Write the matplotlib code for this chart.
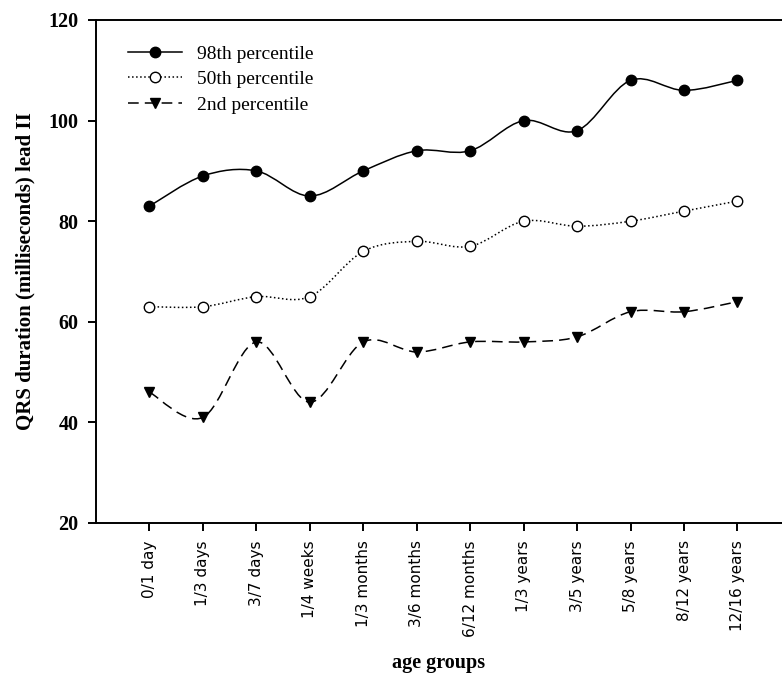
import matplotlib.pyplot as plt
from matplotlib.path import Path
from matplotlib.patches import PathPatch
from matplotlib.lines import Line2D

# Datos
age_groups = ['0/1 day', '1/3 days', '3/7 days', '1/4 weeks', '1/3 months', '3/6 months',
              '6/12 months', '1/3 years', '3/5 years', '5/8 years', '8/12 years', '12/16 years']
p98 = [83, 89, 90, 85, 90, 94, 94, 100, 98, 108, 106, 108]
p50 = [63, 63, 65, 65, 74, 76, 75, 80, 79, 80, 82, 84]
p2 = [46, 41, 56, 44, 56, 54, 56, 56, 57, 62, 62, 64]


def smooth_path(xs, ys):
    # curva suave (Catmull-Rom como Bezier cubico) que pasa por los puntos
    verts = [(xs[0], ys[0])]
    codes = [Path.MOVETO]
    n = len(xs)
    for i in range(n - 1):
        x0, y0 = (xs[i - 1], ys[i - 1]) if i > 0 else (xs[i], ys[i])
        x1, y1 = xs[i], ys[i]
        x2, y2 = xs[i + 1], ys[i + 1]
        x3, y3 = (xs[i + 2], ys[i + 2]) if i + 2 < n else (x2, y2)
        verts += [(x1 + (x2 - x0) / 6, y1 + (y2 - y0) / 6),
                  (x2 - (x3 - x1) / 6, y2 - (y3 - y1) / 6),
                  (x2, y2)]
        codes += [Path.CURVE4] * 3
    return Path(verts, codes)


fig = plt.figure(figsize=(7.82, 6.75), dpi=100)
ax = fig.add_axes([0.1228, 0.2252, 0.877, 0.7452])

x = list(range(len(age_groups)))
series = [
    (p98, '-', 'o', 'black', '98th percentile'),
    (p50, ':', 'o', 'white', '50th percentile'),
    (p2, (0, (7, 4)), 'v', 'black', '2nd percentile'),
]
handles = []
for vals, ls, mk, fc, label in series:
    ax.add_patch(PathPatch(smooth_path(x, vals), facecolor='none', edgecolor='black',
                           linestyle=ls, linewidth=1.1, zorder=2))
    ax.plot(x, vals, linestyle='none', marker=mk, markersize=7.5,
            markerfacecolor=fc, markeredgecolor='black', markeredgewidth=1.0, zorder=3)
    handles.append(Line2D([], [], color='black', linestyle=ls, linewidth=1.1, marker=mk,
                          markersize=7.5, markerfacecolor=fc, markeredgecolor='black'))

ax.set_xlim(-1, 11.83)
ax.set_ylim(20, 120)
ax.set_yticks([20, 40, 60, 80, 100, 120])
ax.set_xticks(x)
ax.set_xticklabels(age_groups, rotation=90, fontsize=11, family='DejaVu Sans')
for t in ax.get_yticklabels():
    t.set_fontfamily('Liberation Serif')
    t.set_fontweight('bold')
    t.set_fontsize(14.5)

ax.spines['right'].set_visible(False)
for s in ['left', 'bottom', 'top']:
    ax.spines[s].set_linewidth(1.4)
ax.tick_params(direction='out', length=6, width=1.4, pad=6.5)

ax.set_xlabel('age groups', family='Liberation Serif', fontweight='bold', fontsize=14.5)
ax.xaxis.set_label_coords(0.5, (521 - 660) / 501)
ax.xaxis.label.set_va('center')
ax.set_ylabel('QRS duration (milliseconds) lead II', family='Liberation Serif',
              fontweight='bold', fontsize=15)
ax.yaxis.set_label_coords(-(96 - 25) / 686, 0.5)
ax.yaxis.label.set_va('center')

ax.legend(handles, [s[4] for s in series], loc='upper left', bbox_to_anchor=(0.0466, 0.95),
          frameon=False, prop={'family': 'Liberation Serif', 'size': 14},
          handlelength=2.8, labelspacing=0.4, handletextpad=0.75,
          borderpad=0, borderaxespad=0)

plt.savefig('out.png', dpi=100)
